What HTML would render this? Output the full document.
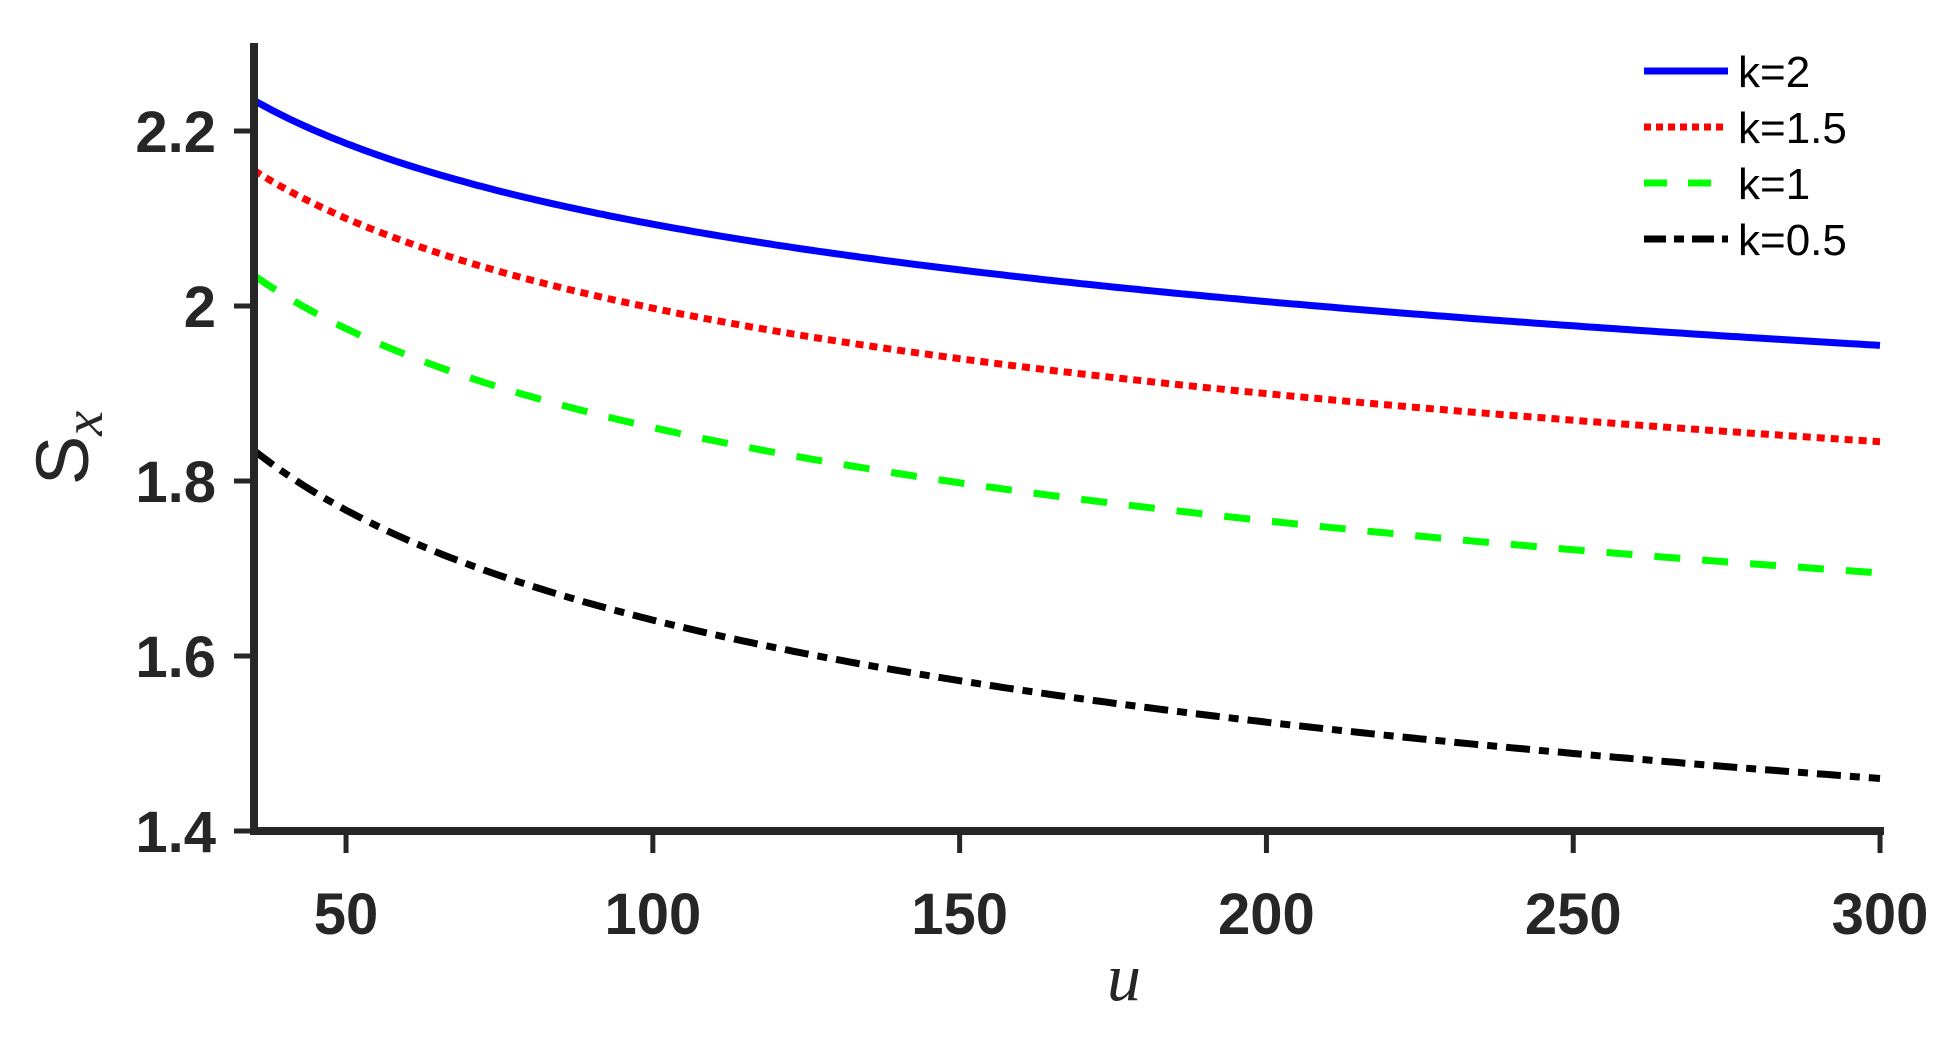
<!DOCTYPE html>
<html><head><meta charset="utf-8"><style>
html,body{margin:0;padding:0;background:#fff;width:1948px;height:1037px;overflow:hidden}
svg text{fill:#262626}
</style></head><body>
<svg id="s" width="1948" height="1037" xmlns="http://www.w3.org/2000/svg">
<g id="curves" fill="none" stroke-width="7"></g>
<line x1="254" y1="43" x2="254" y2="834" stroke="#262626" stroke-width="8"/>
<line x1="250" y1="831" x2="1884" y2="831" stroke="#262626" stroke-width="8"/>
<g stroke="#262626" stroke-width="5" id="ticks"></g>
<g font-family="Liberation Sans, sans-serif" font-weight="bold" font-size="58" text-anchor="end" id="ylab"></g>
<g font-family="Liberation Sans, sans-serif" font-weight="bold" font-size="58" text-anchor="middle" id="xlab"></g>
<text x="1124" y="1000" font-family="Liberation Serif, serif" font-style="italic" font-size="68" text-anchor="middle">u</text>
<text transform="translate(88,448) rotate(-90)" font-family="Liberation Sans, sans-serif" font-size="74" text-anchor="middle">S<tspan font-family="Liberation Serif, serif" font-style="italic" font-size="56" dy="14">x</tspan></text>
<g stroke-width="7">
<line x1="1644" y1="71" x2="1728" y2="71" stroke="#0000ff"/>
<line x1="1644" y1="127" x2="1728" y2="127" stroke="#ff0000" stroke-dasharray="7 5"/>
<line x1="1644" y1="183" x2="1728" y2="183" stroke="#00ff00" stroke-dasharray="23 21"/>
<line x1="1644" y1="239" x2="1728" y2="239" stroke="#000" stroke-dasharray="22 8 10 8"/>
</g>
<g font-family="Liberation Sans, sans-serif" font-size="44" fill="#000">
<text x="1738" y="87" style="fill:#000">k=2</text>
<text x="1738" y="143" style="fill:#000">k=1.5</text>
<text x="1738" y="199" style="fill:#000">k=1</text>
<text x="1738" y="255" style="fill:#000">k=0.5</text>
</g>
</svg>
<script>
const NS="http://www.w3.org/2000/svg";
const X=u=>254+(u-35)*306.8/50, Y=v=>831-(v-1.4)*875;
const series=[[2.235,0.0623,"#0000ff",""],[2.155,0.0723,"#ff0000","8 6"],[2.035,0.0851,"#00ff00","26 22"],[1.835,0.1064,"#000","24 9 10 9"]];
const g=document.getElementById("curves");
for(const [a,p,c,d] of series){let s="";for(let u=35;u<=300.01;u+=1){s+=(u==35?"M":"L")+X(u).toFixed(1)+","+Y(a*Math.pow(u/35,-p)).toFixed(1);}
const e=document.createElementNS(NS,"path");e.setAttribute("d",s);e.setAttribute("stroke",c);if(d)e.setAttribute("stroke-dasharray",d);g.appendChild(e);}
const t=document.getElementById("ticks"),yl=document.getElementById("ylab"),xl=document.getElementById("xlab");
function L(x1,y1,x2,y2){const e=document.createElementNS(NS,"line");e.setAttribute("x1",x1);e.setAttribute("y1",y1);e.setAttribute("x2",x2);e.setAttribute("y2",y2);t.appendChild(e);}
function T(p,x,y,s){const e=document.createElementNS(NS,"text");e.setAttribute("x",x);e.setAttribute("y",y);e.textContent=s;p.appendChild(e);}
for(const v of [1.4,1.6,1.8,2,2.2]){const y=Y(v);L(234,y,254,y);T(yl,216,y+21,v==2?"2":v.toFixed(1));}
for(const u of [50,100,150,200,250,300]){const x=X(u);L(x,831,x,853);T(xl,x,934,String(u));}
</script>
</body></html>
